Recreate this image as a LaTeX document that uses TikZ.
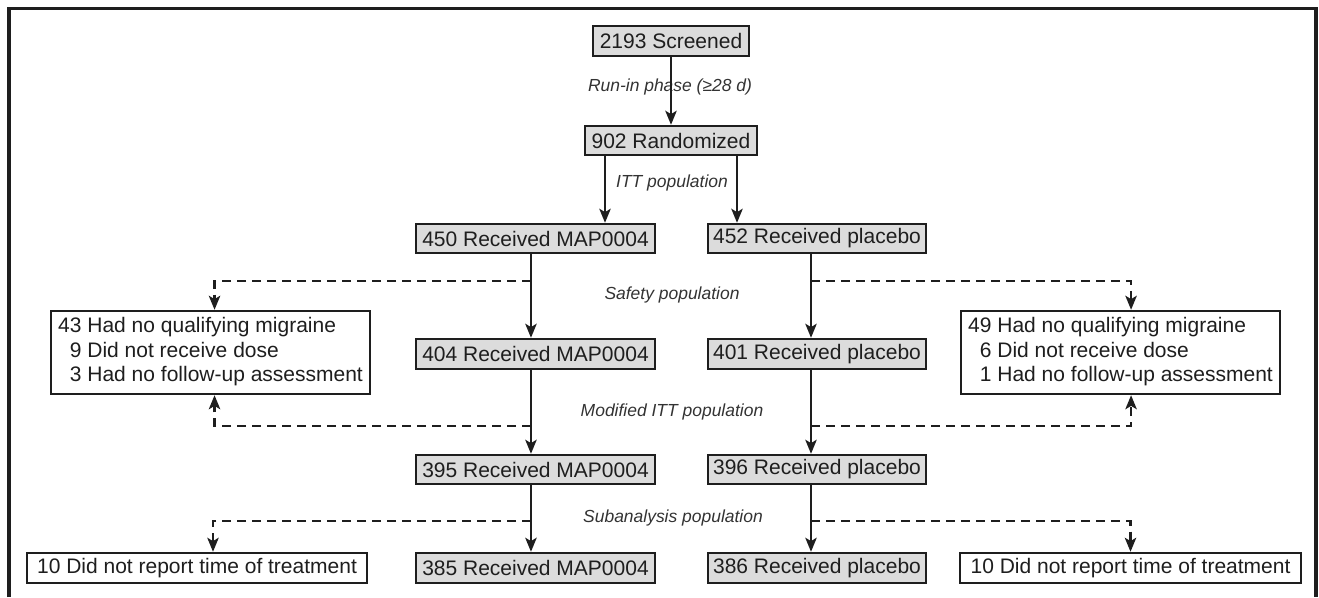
\documentclass[tikz,border=0pt]{standalone}
\usepackage{fontspec}
\setmainfont{Liberation Sans}
\usetikzlibrary{arrows.meta}
\definecolor{boxgray}{HTML}{DCDCDC}
\definecolor{ink}{HTML}{1E1E1E}
\definecolor{labelgray}{HTML}{333333}
\begin{document}
\begin{tikzpicture}[x=0.75pt,y=-0.75pt,
  base/.style={draw=ink,line width=1.8pt,text=ink,inner xsep=0pt,inner ysep=0pt,
    font=\fontsize{15.75}{18.4}\selectfont},
  gbox/.style={base,fill=boxgray},
  wbox/.style={base,fill=white},
  lbl/.style={font=\fontsize{13.1}{15}\selectfont\itshape,text=labelgray,inner sep=0pt},
  arr/.style={draw=ink,line width=1.9pt,-{Stealth[length=10.5pt,width=8.5pt,inset=2.5pt]}},
  darr/.style={arr,dash pattern=on 6.75pt off 4.5pt},
]
\useasboundingbox (0,0) rectangle (1319,597);
% frame (open at the bottom)
\draw[ink,line width=2.5pt] (9,597) -- (9,8.5) -- (1316,8.5) -- (1316,597);

% main column
\node[gbox,minimum width=117pt,minimum height=22.5pt] (scr) at (671,41) {2193 Screened};
\node[gbox,minimum width=129pt,minimum height=21.75pt] (rand) at (671,140.5) {902 Randomized};
\node[gbox,minimum width=179.25pt,minimum height=21.75pt] (m1) at (535.5,238.5) {450 Received MAP0004};
\node[gbox,minimum width=163.5pt,minimum height=21.75pt] (p1) at (817,238.5) {452 Received placebo};
\node[gbox,minimum width=179.25pt,minimum height=22.5pt] (m2) at (535.5,354) {404 Received MAP0004};
\node[gbox,minimum width=163.5pt,minimum height=22.5pt] (p2) at (817,354) {401 Received placebo};
\node[gbox,minimum width=179.25pt,minimum height=21.75pt] (m3) at (535.5,469.5) {395 Received MAP0004};
\node[gbox,minimum width=163.5pt,minimum height=21.75pt] (p3) at (817,469.5) {396 Received placebo};
\node[gbox,minimum width=179.25pt,minimum height=22.5pt] (m4) at (535.5,568) {385 Received MAP0004};
\node[gbox,minimum width=163.5pt,minimum height=22.5pt] (p4) at (817,568) {386 Received placebo};

% exclusion boxes
\node[wbox,anchor=west,inner xsep=5.25pt,minimum height=62.25pt] (exL) at (50,352.5)
  {\begin{tabular}{@{}r@{ }l@{}}43 & Had no qualifying migraine\\ 9 & Did not receive dose\\ 3 & Had no follow-up assessment\end{tabular}};
\node[wbox,anchor=west,inner xsep=5.25pt,minimum height=62.25pt] (exR) at (960,352.5)
  {\begin{tabular}{@{}r@{ }l@{}}49 & Had no qualifying migraine\\ 6 & Did not receive dose\\ 1 & Had no follow-up assessment\end{tabular}};
\node[wbox,minimum width=255pt,minimum height=22.5pt] (tL) at (197,568) {10 Did not report time of treatment};
\node[wbox,minimum width=255.75pt,minimum height=22.5pt] (tR) at (1130.5,568) {10 Did not report time of treatment};

% labels
\node[lbl] (lrun) at (670,87) {Run-in phase (≥28 d)};
\node[lbl] (litt) at (672,183) {ITT population};
\node[lbl] (lsaf) at (672,295) {Safety population};
\node[lbl] (lmitt) at (672,411.5) {Modified ITT population};
\node[lbl] (lsub) at (673,518) {Subanalysis population};

% solid connectors
\draw[arr] (scr.south) -- (rand.north);
\draw[arr] ([xshift=-49.5pt]rand.south) -- ([xshift=-49.5pt]rand.south |- m1.north);
\draw[arr] ([xshift=49.5pt]rand.south) -- ([xshift=49.5pt]rand.south |- p1.north);
\draw[arr] ([xshift=-3.4pt]m1.south) -- ([xshift=-3.4pt]m2.north);
\draw[arr] ([xshift=-3.4pt]m2.south) -- ([xshift=-3.4pt]m3.north);
\draw[arr] ([xshift=-3.4pt]m3.south) -- ([xshift=-3.4pt]m4.north);
\draw[arr] ([xshift=-4.5pt]p1.south) -- ([xshift=-4.5pt]p2.north);
\draw[arr] ([xshift=-4.5pt]p2.south) -- ([xshift=-4.5pt]p3.north);
\draw[arr] ([xshift=-4.5pt]p3.south) -- ([xshift=-4.5pt]p4.north);

% branch points on the stems
\coordinate (bL1) at (531,281);
\coordinate (bL2) at (531,426);
\coordinate (bL3) at (531,521);
\coordinate (bR1) at (811,281);
\coordinate (bR2) at (811,426);
\coordinate (bR3) at (811,521);

% dashed connectors
\draw[darr] (bL1) -| ([xshift=3pt]exL.north);
\draw[darr] (bL2) -| ([xshift=3pt]exL.south);
\draw[darr] (bL3) -| ([xshift=12pt]tL.north);
\draw[darr] (bR1) -| ([xshift=7.9pt]exR.north);
\draw[darr] (bR2) -| ([xshift=7.9pt]exR.south);
\draw[darr] (bR3) -| (tR.north);
\end{tikzpicture}
\end{document}
